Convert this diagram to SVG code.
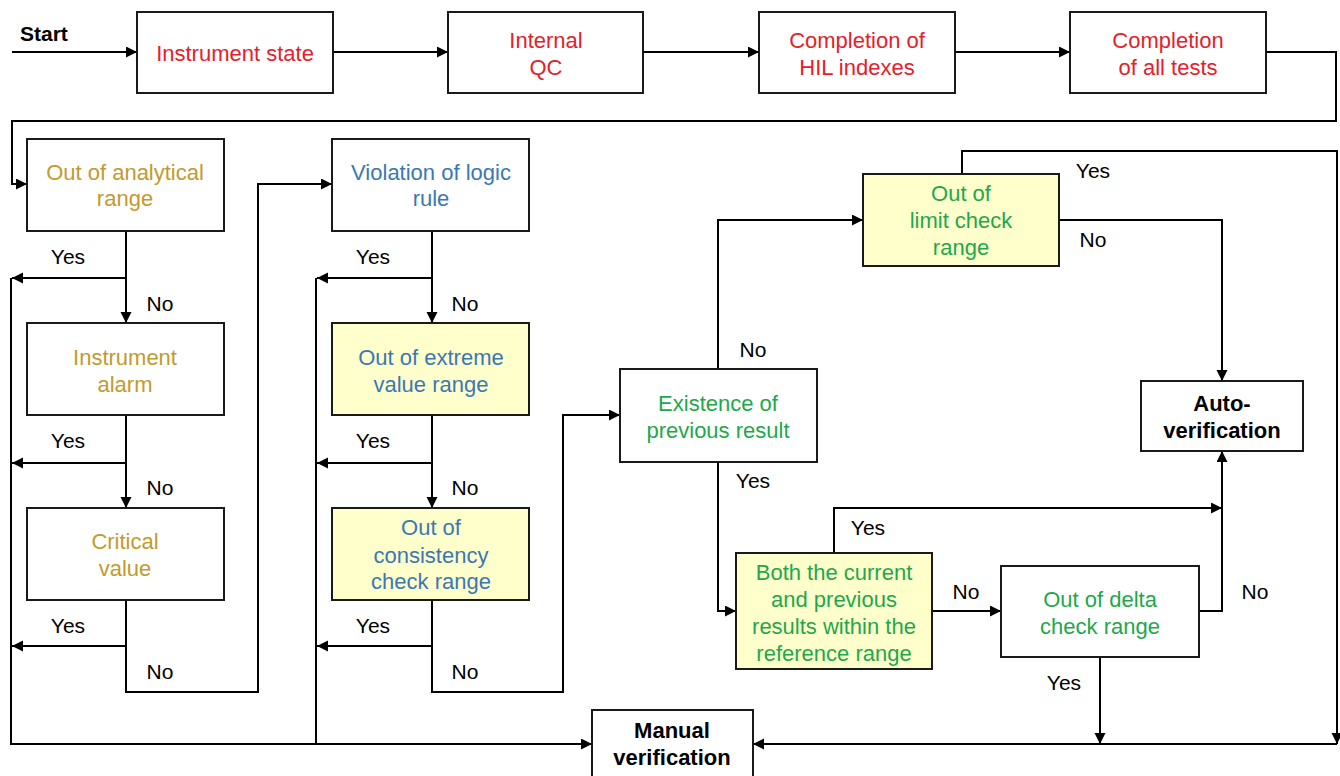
<svg xmlns="http://www.w3.org/2000/svg" width="1340" height="776" viewBox="0 0 1340 776">
<defs>
<marker id="ah" markerUnits="userSpaceOnUse" markerWidth="12" markerHeight="12" refX="11" refY="5.5" orient="auto">
<path d="M0,0 L11,5.5 L0,11 z" fill="#000"/>
</marker>
<style>
.box{fill:#fff;stroke:#1a1a1a;stroke-width:2}
.yel{fill:#ffffcc;stroke:#1a1a1a;stroke-width:2}
.t{font-family:"Liberation Sans",Arial,sans-serif;font-size:22px;text-anchor:middle}
.red{fill:#e5202a}
.gold{fill:#c29a2e}
.blue{fill:#3b78b3}
.green{fill:#1ea84b}
.bk{fill:#000;font-weight:bold}
.lbl{font-family:"Liberation Sans",Arial,sans-serif;font-size:21px;fill:#000;text-anchor:middle}
.c{fill:none;stroke:#000;stroke-width:2}
.ca{fill:none;stroke:#000;stroke-width:2;marker-end:url(#ah)}
</style>
</defs>
<rect width="1340" height="776" fill="#fff"/>

<g id="connectors">
<path class="ca" d="M12,52 H137"/>
<path class="ca" d="M333,52 H448"/>
<path class="ca" d="M643,52 H759"/>
<path class="ca" d="M955,52 H1070"/>
<path class="ca" d="M1266,52 H1336 V121 H12 V184 H27"/>
<path class="ca" d="M126,230 V323"/>
<path class="ca" d="M126,278 H12"/>
<path class="ca" d="M11,278 V744 H592"/>
<path class="ca" d="M126,415 V508"/>
<path class="ca" d="M126,463 H12"/>
<path class="ca" d="M126,600 V692 H258 V184 H332"/>
<path class="ca" d="M126,646 H12"/>
<path class="ca" d="M432,230 V323"/>
<path class="ca" d="M432,278 H317"/>
<path class="c" d="M316,278 V744"/>
<path class="ca" d="M432,415 V508"/>
<path class="ca" d="M432,463 H317"/>
<path class="ca" d="M432,600 V692 H563 V415 H620"/>
<path class="ca" d="M432,646 H317"/>
<path class="ca" d="M718,369 V220 H863"/>
<path class="ca" d="M962,174 V151 H1337 V744"/>
<path class="ca" d="M1337,744 H753"/>
<path class="ca" d="M1060,220 H1222 V381"/>
<path class="ca" d="M718,462 V611 H736"/>
<path class="ca" d="M834,553 V508 H1222"/>
<path class="ca" d="M932,611 H1001"/>
<path class="ca" d="M1199,611 H1222 V451"/>
<path class="ca" d="M1100,657 V744"/>
</g>

<g id="labels">
<text class="lbl" x="20" y="41" style="text-anchor:start;font-weight:bold">Start</text>
<text class="lbl" x="68" y="264">Yes</text>
<text class="lbl" x="160" y="311">No</text>
<text class="lbl" x="68" y="448">Yes</text>
<text class="lbl" x="160" y="495">No</text>
<text class="lbl" x="68" y="633">Yes</text>
<text class="lbl" x="160" y="679">No</text>
<text class="lbl" x="373" y="264">Yes</text>
<text class="lbl" x="465" y="311">No</text>
<text class="lbl" x="373" y="448">Yes</text>
<text class="lbl" x="465" y="495">No</text>
<text class="lbl" x="373" y="633">Yes</text>
<text class="lbl" x="465" y="679">No</text>
<text class="lbl" x="753" y="357">No</text>
<text class="lbl" x="753" y="488">Yes</text>
<text class="lbl" x="1093" y="178">Yes</text>
<text class="lbl" x="1093" y="247">No</text>
<text class="lbl" x="868" y="535">Yes</text>
<text class="lbl" x="966" y="599">No</text>
<text class="lbl" x="1255" y="599">No</text>
<text class="lbl" x="1064" y="690">Yes</text>
</g>

<g id="n-instrument-state">
<rect class="box" x="137" y="12" width="196" height="81"/>
<text class="t red" x="235" y="61">Instrument state</text>
</g>
<g id="n-internal-qc">
<rect class="box" x="448" y="12" width="195" height="81"/>
<text class="t red" x="546" y="48">Internal</text>
<text class="t red" x="546" y="75">QC</text>
</g>
<g id="n-hil">
<rect class="box" x="759" y="12" width="196" height="81"/>
<text class="t red" x="857" y="48">Completion of</text>
<text class="t red" x="857" y="75">HIL indexes</text>
</g>
<g id="n-all-tests">
<rect class="box" x="1070" y="12" width="196" height="81"/>
<text class="t red" x="1168" y="48">Completion</text>
<text class="t red" x="1168" y="75">of all tests</text>
</g>

<g id="n-analytical">
<rect class="box" x="27" y="139" width="197" height="92"/>
<text class="t gold" x="125" y="180">Out of analytical</text>
<text class="t gold" x="125" y="206">range</text>
</g>
<g id="n-alarm">
<rect class="box" x="27" y="323" width="197" height="92"/>
<text class="t gold" x="125" y="365">Instrument</text>
<text class="t gold" x="125" y="392">alarm</text>
</g>
<g id="n-critical">
<rect class="box" x="27" y="508" width="197" height="92"/>
<text class="t gold" x="125" y="549">Critical</text>
<text class="t gold" x="125" y="576">value</text>
</g>

<g id="n-logic">
<rect class="box" x="332" y="139" width="197" height="92"/>
<text class="t blue" x="431" y="180">Violation of logic</text>
<text class="t blue" x="431" y="206">rule</text>
</g>
<g id="n-extreme">
<rect class="yel" x="332" y="323" width="197" height="92"/>
<text class="t blue" x="431" y="365">Out of extreme</text>
<text class="t blue" x="431" y="392">value range</text>
</g>
<g id="n-consistency">
<rect class="yel" x="332" y="508" width="197" height="92"/>
<text class="t blue" x="431" y="535">Out of</text>
<text class="t blue" x="431" y="563">consistency</text>
<text class="t blue" x="431" y="589">check range</text>
</g>

<g id="n-existence">
<rect class="box" x="620" y="369" width="197" height="93"/>
<text class="t green" x="718" y="411">Existence of</text>
<text class="t green" x="718" y="438">previous result</text>
</g>
<g id="n-limit">
<rect class="yel" x="863" y="174" width="196" height="92"/>
<text class="t green" x="961" y="201">Out of</text>
<text class="t green" x="961" y="228">limit check</text>
<text class="t green" x="961" y="255">range</text>
</g>
<g id="n-auto">
<rect class="box" x="1141" y="381" width="162" height="70"/>
<text class="t bk" x="1222" y="411">Auto-</text>
<text class="t bk" x="1222" y="438">verification</text>
</g>
<g id="n-both">
<rect class="yel" x="736" y="553" width="196" height="116"/>
<text class="t green" x="834" y="580">Both the current</text>
<text class="t green" x="834" y="607">and previous</text>
<text class="t green" x="834" y="634">results within the</text>
<text class="t green" x="834" y="661">reference range</text>
</g>
<g id="n-delta">
<rect class="box" x="1001" y="566" width="198" height="91"/>
<text class="t green" x="1100" y="607">Out of delta</text>
<text class="t green" x="1100" y="634">check range</text>
</g>
<g id="n-manual">
<rect class="box" x="592" y="710" width="161" height="80"/>
<text class="t bk" x="672" y="738">Manual</text>
<text class="t bk" x="672" y="765">verification</text>
</g>
</svg>
